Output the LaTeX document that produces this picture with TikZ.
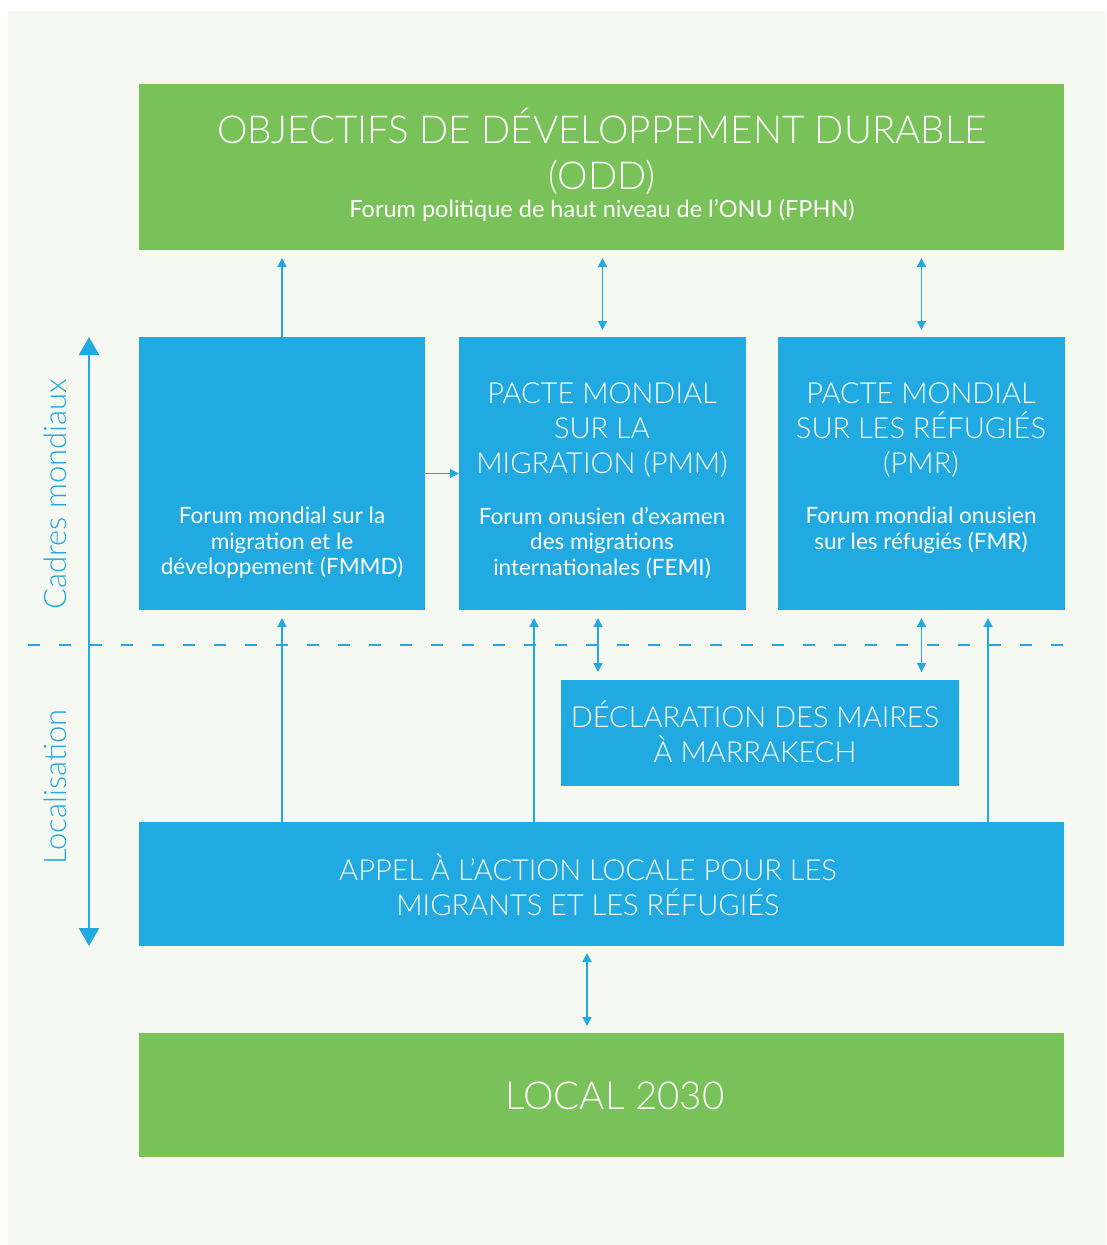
\documentclass[tikz,border=0pt]{standalone}
\usepackage{fontspec}
\setmainfont{Lato}
\newfontfamily\light{Lato Light}
\usetikzlibrary{arrows.meta}
\definecolor{grn}{HTML}{79C159}
\definecolor{blu}{HTML}{20AAE1}
\definecolor{bgc}{HTML}{F6F8F2}
\begin{document}
\begin{tikzpicture}[x=1pt,y=-1pt,
  box/.style={draw=none, inner sep=0pt, outer sep=0pt, anchor=north west},
  arr/.style={blu, line width=1.4pt, -{Triangle[length=9pt,width=9pt]}},
  darr/.style={blu, line width=1.4pt, {Triangle[length=9pt,width=9pt]}-{Triangle[length=9pt,width=9pt]}},
  bigarr/.style={blu, line width=2.6pt, {Triangle[length=18pt,width=20pt]}-{Triangle[length=18pt,width=20pt]}},
  ttl/.style={text=white, font=\light\fontsize{29}{35}\selectfont, align=center, inner sep=0pt},
  bigttl/.style={text=white, font=\light\fontsize{38.5}{46}\selectfont, align=center, inner sep=0pt},
  sub/.style={text=white, font=\fontsize{22.5}{25.5}\selectfont, align=center, inner sep=0pt},
  side/.style={text=blu, font=\light\fontsize{31}{34}\selectfont, rotate=90, inner sep=0pt}]
\useasboundingbox (0,0) rectangle (1106,1245);
\fill[white] (0,0) rectangle (1106,1245);
\fill[bgc] (8,11) rectangle (1106,1245);

% boxes
\node[box, fill=grn, minimum width=925pt, minimum height=166pt] (odd) at (139,84) {};
\node[box, fill=blu, minimum width=286pt, minimum height=273pt] (fmmd) at (139,337) {};
\node[box, fill=blu, minimum width=287pt, minimum height=273pt] (pmm) at (459,337) {};
\node[box, fill=blu, minimum width=287pt, minimum height=273pt] (pmr) at (778,337) {};
\node[box, fill=blu, minimum width=398pt, minimum height=106pt] (decl) at (561,680) {};
\node[box, fill=blu, minimum width=925pt, minimum height=124pt] (appel) at (139,822) {};
\node[box, fill=grn, minimum width=925pt, minimum height=124pt] (local) at (139,1033) {};

% texts
\node[bigttl] (toddt) at (602,151) {OBJECTIFS DE DÉVELOPPEMENT DURABLE\\(ODD)};
\node[sub, font=\fontsize{23.5}{25.5}\selectfont] (todds) at (602,210) {Forum politique de haut niveau de l’ONU (FPHN)};
\node[sub] (tfmmd) at (282,543) {Forum mondial sur la\\migration et le\\développement (FMMD)};
\node[ttl] (tpmmt) at (602,430) {PACTE MONDIAL\\SUR LA\\MIGRATION (PMM)};
\node[sub] (tpmms) at (602,543) {Forum onusien d’examen\\des migrations\\internationales (FEMI)};
\node[ttl] (tpmrt) at (921,430) {PACTE MONDIAL\\SUR LES RÉFUGIÉS\\(PMR)};
\node[sub] (tpmrs) at (921,530.5) {Forum mondial onusien\\sur les réfugiés (FMR)};
\node[ttl] (tdecl) at (755,731.5) {DÉCLARATION DES MAIRES\\À MARRAKECH};
\node[ttl] (tappel) at (588,885) {APPEL À L’ACTION LOCALE POUR LES\\MIGRANTS ET LES RÉFUGIÉS};
\node[bigttl] (tlocal) at (615,1096) {LOCAL 2030};
\node[side] (scad) at (55,494) {Cadres mondiaux};
\node[side] (sloc) at (55,787) {Localisation};

% helper coordinates
\coordinate (x534) at (534,0);
\coordinate (x598) at (598,0);
\coordinate (x988) at (988,0);
\coordinate (x587) at (587,0);
\coordinate (lt) at (89,337);
\coordinate (lb) at (89,946);
\coordinate (dl) at (28,645);
\coordinate (dr) at (1066,645);

% dashed separator
\draw[blu, line width=1.2pt, dash pattern=on 12pt off 19pt] (dl) -- (dr);
% left arrow
\draw[bigarr] (lt) -- (lb);

% connectors
\draw[arr, shorten >=8pt] (fmmd.north) -- (fmmd.north |- odd.south);
\draw[darr, shorten <=7pt, shorten >=8pt] (pmm.north) -- (pmm.north |- odd.south);
\draw[darr, shorten <=7pt, shorten >=8pt] (pmr.north) -- (pmr.north |- odd.south);
\draw[arr] (fmmd.east) -- (pmm.west);
\draw[arr, shorten >=8pt] (appel.north -| fmmd.south) -- (fmmd.south);
\draw[arr, shorten >=8pt] (appel.north -| x534) -- (pmm.south -| x534);
\draw[darr, shorten <=8pt, shorten >=8pt] (decl.north -| x598) -- (pmm.south -| x598);
\draw[darr, shorten <=8pt, shorten >=8pt] (decl.north -| pmr.south) -- (pmr.south);
\draw[arr, shorten >=8pt] (appel.north -| x988) -- (pmr.south -| x988);
\draw[darr, shorten <=7pt, shorten >=7pt] (appel.south -| x587) -- (local.north -| x587);
\end{tikzpicture}
\end{document}
